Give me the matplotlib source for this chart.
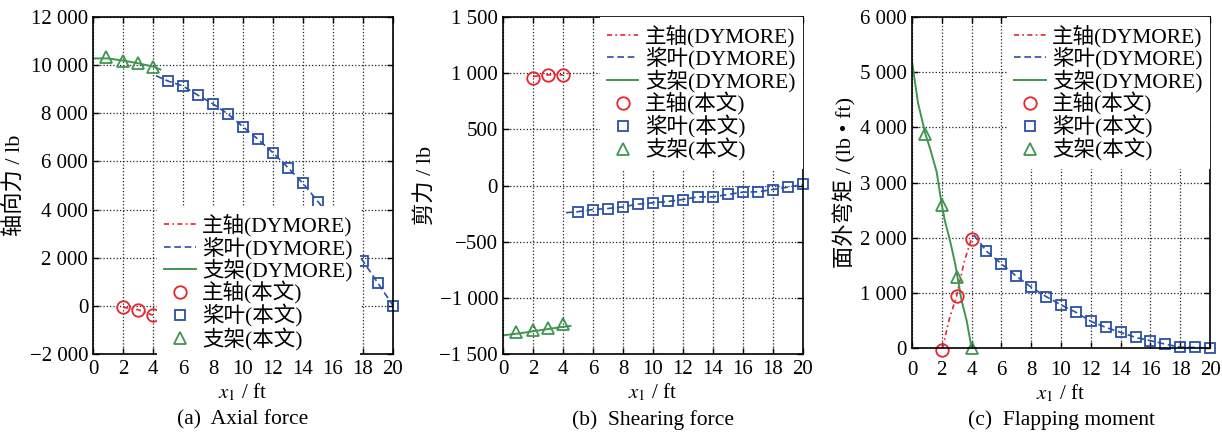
import numpy as np
import matplotlib
matplotlib.use("Agg")
import matplotlib.pyplot as plt
from matplotlib.ticker import FuncFormatter, MultipleLocator

plt.rcParams['font.family'] = ['Liberation Serif', 'Noto Sans CJK SC']
plt.rcParams['mathtext.fontset'] = 'stix'
plt.rcParams['axes.unicode_minus'] = True

RED = '#e8242c'
BLUE = '#2b4fa6'
GREEN = '#3f9650'

# ---- (a) axial force ----
a_shaft_x = [2, 3, 4]
a_shaft_y = [-60, -160, -390]
a_blade_x = [5, 6, 7, 8, 9, 10, 11, 12, 13, 14, 15, 16, 17, 18, 19, 20]
a_blade_y = [9340, 9130, 8750, 8390, 7970, 7440, 6920, 6360, 5740, 5090, 4330, 3550, 2750, 1860, 940, 10]
a_supp_x = [0.9, 2, 3, 4]
a_supp_y = [10340, 10190, 10080, 9940]
# DYMORE curves
a_shaft_lx = [2, 3, 4]
a_shaft_ly = [-60, -160, -390]
a_blade_lx = [4.2, 5, 6, 7, 8, 9, 10, 11, 12, 13, 14, 15, 16, 17, 18, 19, 20]
a_blade_ly = [9560, 9340, 9130, 8750, 8390, 7970, 7440, 6920, 6360, 5740, 5090, 4330, 3550, 2750, 1860, 940, 10]
a_supp_lx = [0, 1, 2, 3, 4, 4.5]
a_supp_ly = [10280, 10280, 10190, 10080, 9940, 9820]

# ---- (b) shearing force ----
b_shaft_x = [2, 3, 4]
b_shaft_y = [960, 980, 980]
b_blade_x = [5, 6, 7, 8, 9, 10, 11, 12, 13, 14, 15, 16, 17, 18, 19, 20]
b_blade_y = [-233, -214, -205, -190, -166, -154, -142, -125, -101, -101, -80, -59, -56, -36, -15, 9]
b_supp_x = [0.85, 2, 3, 4]
b_supp_y = [-1304, -1289, -1265, -1235]
b_shaft_lx = [2, 3, 4]
b_shaft_ly = [970, 985, 985]
b_blade_lx = [4.2, 5, 6, 7, 8, 9, 10, 11, 12, 13, 14, 15, 16, 17, 18, 19, 20]
b_blade_ly = [-242, -233, -214, -205, -190, -166, -154, -142, -125, -101, -101, -80, -59, -56, -36, -15, 9]
b_supp_lx = [0, 1, 2, 3, 4, 4.5]
b_supp_ly = [-1334, -1318, -1298, -1278, -1258, -1250]

# ---- (c) flapping moment ----
c_shaft_x = [2, 3, 4]
c_shaft_y = [-30, 940, 1980]
c_blade_x = [5, 6, 7, 8, 9, 10, 11, 12, 13, 14, 15, 16, 17, 18, 19, 20]
c_blade_y = [1756, 1527, 1303, 1103, 933, 782, 648, 484, 375, 284, 193, 133, 70, 15, 10, 0]
c_supp_x = [0.9, 2, 3, 4]
c_supp_y = [3880, 2585, 1290, 0]
c_shaft_lx = [2.05, 2.5, 3.0, 3.5, 4.0, 4.15]
c_shaft_ly = [0, 520, 950, 1560, 1990, 2050]
c_blade_lx = [4.15, 5, 6, 7, 8, 9, 10, 11, 12, 13, 14, 15, 16, 17, 18, 19, 20]
c_blade_ly = [2050, 1756, 1527, 1303, 1103, 933, 782, 648, 484, 375, 284, 193, 133, 70, 15, 10, 0]
c_supp_lx = [0, 0.4, 0.9, 1.2, 1.65, 2.0, 2.2, 2.55, 2.9, 3.33, 3.67, 4.0]
c_supp_ly = [5200, 4450, 3880, 3630, 3200, 2600, 2315, 1950, 1525, 860, 496, 0]

labels = ['主轴(DYMORE)', '桨叶(DYMORE)', '支架(DYMORE)', '主轴(本文)', '桨叶(本文)', '支架(本文)']


def thousands(v, pos):
    s = f"{abs(int(round(v))):,}".replace(",", " ")
    return ("\u2212" + s) if v < 0 else s


def draw(ax, lines, marks, ylim, ystep, ylabel, caption, legend_kw, xpad=4):
    (slx, sly), (blx, bly), (glx, gly) = lines
    (sx, sy), (bx, by), (gx, gy) = marks
    ax.plot(slx, sly, color=RED, lw=1.2, ls=(0, (3, 2, 1, 2)), label=labels[0])
    ax.plot(blx, bly, color=BLUE, lw=1.2, ls=(0, (4, 2.2)), label=labels[1])
    ax.plot(glx, gly, color=GREEN, lw=1.4, ls='-', label=labels[2])
    ax.plot(sx, sy, ls='none', marker='o', ms=9, mfc='none', mec=RED, mew=1.3,
            clip_on=False, label=labels[3])
    ax.plot(bx, by, ls='none', marker='s', ms=7, mfc='none', mec=BLUE, mew=1.3,
            clip_on=False, label=labels[4])
    ax.plot(gx, gy, ls='none', marker='^', ms=9, mfc='none', mec=GREEN, mew=1.3,
            clip_on=False, label=labels[5])

    ax.set_xlim(0, 20)
    ax.set_ylim(*ylim)
    ax.xaxis.set_major_locator(MultipleLocator(2))
    ax.yaxis.set_major_locator(MultipleLocator(ystep))
    ax.yaxis.set_major_formatter(FuncFormatter(thousands))
    ax.set_axisbelow(True)
    ax.grid(True, ls=':', color='#222222', lw=0.9)
    ax.tick_params(direction='in', length=4, width=1, top=True, right=True, labelsize=15)
    ax.tick_params(axis='x', pad=xpad)
    for sp in ax.spines.values():
        sp.set_linewidth(1.2)
    ax.set_ylabel(ylabel, fontsize=16, labelpad=3)
    ax.set_xlabel(r'$x_1$ / ft', fontsize=15, labelpad=2)

    leg = ax.legend(fontsize=15.5, frameon=True, fancybox=False, edgecolor='none',
                    facecolor='white', framealpha=1, borderpad=0.35, labelspacing=0.0,
                    handlelength=1.45, handletextpad=0.3, borderaxespad=0, **legend_kw)
    leg.get_frame().set_linewidth(0)
    leg.set_zorder(5)

    pos = ax.get_position()
    fig.text((pos.x0 + pos.x1) / 2, 0.028, caption, ha='center', va='center', fontsize=15.5)


fig = plt.figure(figsize=(12.22, 4.32), dpi=100)
ax_a = fig.add_axes([0.0761, 0.1806, 0.2455, 0.780])
ax_b = fig.add_axes([0.4116, 0.1806, 0.2455, 0.780])
ax_c = fig.add_axes([0.7463, 0.1944, 0.2439, 0.766])

draw(ax_a,
     [(a_shaft_lx, a_shaft_ly), (a_blade_lx, a_blade_ly), (a_supp_lx, a_supp_ly)],
     [(a_shaft_x, a_shaft_y), (a_blade_x, a_blade_y), (a_supp_x, a_supp_y)],
     (-2000, 12000), 2000, '轴向力 / lb', '(a)  Axial force',
     dict(loc='upper left', bbox_to_anchor=(0.213, 0.438)))
draw(ax_b,
     [(b_shaft_lx, b_shaft_ly), (b_blade_lx, b_blade_ly), (b_supp_lx, b_supp_ly)],
     [(b_shaft_x, b_shaft_y), (b_blade_x, b_blade_y), (b_supp_x, b_supp_y)],
     (-1500, 1500), 500, '剪力 / lb', '(b)  Shearing force',
     dict(loc='upper right', bbox_to_anchor=(1.0, 1.0)))
draw(ax_c,
     [(c_shaft_lx, c_shaft_ly), (c_blade_lx, c_blade_ly), (c_supp_lx, c_supp_ly)],
     [(c_shaft_x, c_shaft_y), (c_blade_x, c_blade_y), (c_supp_x, c_supp_y)],
     (0, 6000), 1000, '面外弯矩 / (lb • ft)', '(c)  Flapping moment',
     dict(loc='upper right', bbox_to_anchor=(1.0, 1.0)), xpad=9)

fig.savefig('out.png', dpi=100)
